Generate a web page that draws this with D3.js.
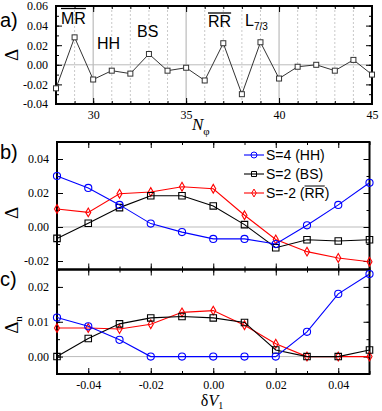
<!DOCTYPE html>
<html>
<head>
<meta charset="utf-8">
<script src="https://cdn.jsdelivr.net/npm/d3@7"></script>
<style>
body { margin: 0; background: #fff; }
svg { display: block; }
</style>
</head>
<body>
<div id="chart"></div>
<script>
// panel a data
var nphi = [28, 29, 30, 31, 32, 33, 34, 35, 36, 37, 38, 39, 40, 41, 42, 43, 44, 45];
var gapA = [-0.024, 0.028, -0.015, -0.006, -0.009, 0.011, -0.006, -0.003, -0.016, 0.022, -0.030, 0.023, -0.014, -0.002, 0.000, -0.006, 0.005, -0.010];

// panels b, c data
var dV = [-0.05, -0.04, -0.03, -0.02, -0.01, 0.00, 0.01, 0.02, 0.03, 0.04, 0.05];
var gapHH = [0.030, 0.023, 0.013, 0.002, -0.003, -0.007, -0.007, -0.010, 0.001, 0.013, 0.026];
var gapBS = [-0.0067, 0.0022, 0.0114, 0.0184, 0.0184, 0.0124, 0.0014, -0.0122, -0.0075, -0.0082, -0.0075];
var gapRR = [0.0106, 0.0086, 0.0196, 0.0206, 0.0237, 0.0225, 0.0069, -0.0073, -0.0145, -0.0182, -0.0204];
var gapnHH = [0.0112, 0.0087, 0.0048, 0, 0, 0, 0, 0, 0.0071, 0.018, 0.0237];
var gapnBS = [0, 0.0052, 0.0094, 0.0111, 0.0115, 0.0111, 0.0098, 0.0019, 0, 0, 0.0019];
var gapnRR = [0.0082, 0.0082, 0.0079, 0.0093, 0.0127, 0.0132, 0.009, 0.0037, 0, 0, 0];
var seriesNames = ["S=4 (HH)", "S=2 (BS)", "S=-2 (RR)"];
var seriesColors = ["#0000ff", "#000000", "#ff0000"];

var W = 382, H = 411;
var svg = d3.select("#chart").append("svg").attr("width", W).attr("height", H);

var fmt = function(d) { return d.toFixed(2); };
var serif = "'Liberation Serif', 'Times New Roman', serif";
var sans = "'Liberation Sans', Arial, sans-serif";

// ---------- panel a ----------
var xa = d3.scaleLinear().domain([28, 45]).range([56, 372]);
var ya = d3.scaleLinear().domain([-0.04, 0.06]).range([104, 6]);

// grid lines
svg.selectAll(".gridA").data(d3.range(29, 45)).enter().append("line")
    .attr("x1", function(d) { return xa(d); }).attr("x2", function(d) { return xa(d); })
    .attr("y1", ya(0.06)).attr("y2", ya(-0.04))
    .attr("stroke", "#bbb").attr("stroke-width", function(d) { return d % 5 == 0 ? 1.2 : 0.8; })
    .attr("stroke-dasharray", function(d) { return d % 5 == 0 ? null : "2,2"; });
svg.append("line").attr("x1", xa(28)).attr("x2", xa(45)).attr("y1", ya(0)).attr("y2", ya(0))
    .attr("stroke", "#bbb").attr("stroke-width", 1);

function frameAxes(x, y, xTicks, xMinor, yTicks, yMinor, showX) {
    var g = svg.append("g");
    var x0 = x.range()[0], x1 = x.range()[1], y0 = y.range()[0], y1 = y.range()[1];
    // bottom
    g.append("g").attr("transform", "translate(0," + y0 + ")")
        .call(d3.axisBottom(x).tickValues(xMinor).tickSize(-3).tickFormat(""));
    g.append("g").attr("transform", "translate(0," + y0 + ")")
        .call(d3.axisBottom(x).tickValues(xTicks).tickSize(-6).tickPadding(6)
            .tickFormat(showX ? function(d) { return showX(d); } : ""));
    // top
    g.append("g").attr("transform", "translate(0," + y1 + ")")
        .call(d3.axisTop(x).tickValues(xMinor).tickSize(-3).tickFormat(""));
    g.append("g").attr("transform", "translate(0," + y1 + ")")
        .call(d3.axisTop(x).tickValues(xTicks).tickSize(-6).tickFormat(""));
    // left
    g.append("g").attr("transform", "translate(" + x0 + ",0)")
        .call(d3.axisLeft(y).tickValues(yMinor).tickSize(-3).tickFormat(""));
    g.append("g").attr("transform", "translate(" + x0 + ",0)")
        .call(d3.axisLeft(y).tickValues(yTicks).tickSize(-6).tickPadding(8).tickFormat(fmt));
    // right
    g.append("g").attr("transform", "translate(" + x1 + ",0)")
        .call(d3.axisRight(y).tickValues(yMinor).tickSize(-3).tickFormat(""));
    g.append("g").attr("transform", "translate(" + x1 + ",0)")
        .call(d3.axisRight(y).tickValues(yTicks).tickSize(-6).tickFormat(""));
    g.selectAll(".domain").remove();
    g.selectAll(".tick line").attr("stroke", "#000").attr("stroke-width", 1);
    g.selectAll("text").attr("font-family", serif).attr("font-size", 12).attr("fill", "#000");
    g.append("rect").attr("x", x0).attr("y", y1).attr("width", x1 - x0).attr("height", y0 - y1)
        .attr("fill", "none").attr("stroke", "#000").attr("stroke-width", 2);
    return g;
}

frameAxes(xa, ya, [30, 35, 40, 45], d3.range(28, 46),
    [-0.04, -0.02, 0, 0.02, 0.04, 0.06], d3.range(-4, 7).map(function(d) { return d / 100; }),
    function(d) { return d; });

svg.append("path").datum(nphi)
    .attr("d", d3.line().x(function(d) { return xa(d); }).y(function(d, i) { return ya(gapA[i]); }))
    .attr("fill", "none").attr("stroke", "#333").attr("stroke-width", 1);
svg.selectAll(".mA").data(nphi).enter().append("rect")
    .attr("x", function(d) { return xa(d) - 2.5; })
    .attr("y", function(d, i) { return ya(gapA[i]) - 2.5; })
    .attr("width", 5).attr("height", 5)
    .attr("fill", "#fff").attr("stroke", "#333").attr("stroke-width", 1);

// annotations
function ann(txt, x, y, overY) {
    var t = svg.append("text").attr("x", x).attr("y", y).attr("font-family", sans)
        .attr("font-size", 16).text(txt);
    if (overY) {
        var w = t.node().getComputedTextLength();
        svg.append("line").attr("x1", x).attr("x2", x + w).attr("y1", overY).attr("y2", overY)
            .attr("stroke", "#000").attr("stroke-width", 1.3);
    }
    return t;
}
ann("MR", 61, 24, 8.5);
ann("HH", 97, 49);
ann("BS", 137, 37);
ann("RR", 208, 27, 13);
var l73 = ann("L", 245, 26);
l73.append("tspan").attr("font-size", 10).attr("dy", 4).text("7/3");

svg.append("text").attr("x", 0).attr("y", 27).attr("font-family", sans).attr("font-size", 20).text("a)");
svg.append("text").attr("transform", "translate(18,55) rotate(-90)").attr("text-anchor", "middle")
    .attr("font-family", serif).attr("font-size", 19).text("Δ");
var nlab = svg.append("text").attr("x", 192).attr("y", 130).attr("font-family", serif)
    .attr("font-style", "italic").attr("font-size", 17).text("N");
nlab.append("tspan").attr("font-style", "normal").attr("font-size", 11).attr("dy", 5).text("φ");

// ---------- panels b, c ----------
var xb = d3.scaleLinear().domain([-0.05, 0.05]).range([57, 369.5]);
var yb = d3.scaleLinear().domain([-0.025, 0.05]).range([269.5, 142]);
var yc = d3.scaleLinear().domain([-0.005, 0.025]).range([374, 269.5]);

svg.append("line").attr("x1", xb(-0.05)).attr("x2", xb(0.05)).attr("y1", yb(0)).attr("y2", yb(0))
    .attr("stroke", "#bbb").attr("stroke-width", 1);
svg.append("line").attr("x1", xb(-0.05)).attr("x2", xb(0.05)).attr("y1", yc(0)).attr("y2", yc(0))
    .attr("stroke", "#bbb").attr("stroke-width", 1);

var dvMajor = [-0.04, -0.02, 0, 0.02, 0.04];
var dvMinor = d3.range(-5, 6).map(function(d) { return d / 100; });

frameAxes(xb, yb, dvMajor, dvMinor, [-0.02, 0, 0.02, 0.04],
    d3.range(-2, 6).map(function(d) { return d / 100; }), null);
frameAxes(xb, yc, dvMajor, dvMinor, [0, 0.01, 0.02],
    d3.range(-1, 6).map(function(d) { return d / 200; }), function(d) { return d.toFixed(2); });

function symFor(shape, big) {
    var s = shape == "circle" ? (big ? 40 : 28) : shape == "square" ? (big ? 42 : 25) : (big ? 22 : 18);
    return d3.symbol().type(shape == "circle" ? d3.symbolCircle : shape == "square" ? d3.symbolSquare : d3.symbolDiamond).size(s);
}

function drawSeries(y, vals, color, shape) {
    svg.append("path").datum(dV)
        .attr("d", d3.line().x(function(d) { return xb(d); }).y(function(d, i) { return y(vals[i]); }))
        .attr("fill", "none").attr("stroke", color).attr("stroke-width", 1.1);
    svg.selectAll(null).data(dV).enter().append("path")
        .attr("d", symFor(shape, true))
        .attr("transform", function(d, i) { return "translate(" + xb(d) + "," + y(vals[i]) + ")"; })
        .attr("fill", "none").attr("stroke", color).attr("stroke-width", 1.1);
}
drawSeries(yb, gapRR, seriesColors[2], "diamond");
drawSeries(yb, gapBS, seriesColors[1], "square");
drawSeries(yb, gapHH, seriesColors[0], "circle");
drawSeries(yc, gapnRR, seriesColors[2], "diamond");
drawSeries(yc, gapnBS, seriesColors[1], "square");
drawSeries(yc, gapnHH, seriesColors[0], "circle");

// legend
var shapes = ["circle", "square", "diamond"];
seriesNames.forEach(function(name, i) {
    var ly = 155 + i * 19;
    svg.append("line").attr("x1", 244).attr("x2", 264).attr("y1", ly).attr("y2", ly)
        .attr("stroke", seriesColors[i]).attr("stroke-width", 1.1);
    svg.append("path").attr("d", symFor(shapes[i], false)).attr("transform", "translate(254," + ly + ")")
        .attr("fill", "none").attr("stroke", seriesColors[i]).attr("stroke-width", 1);
    svg.append("text").attr("x", 266).attr("y", ly + 5).attr("font-family", sans)
        .attr("font-size", 14).text(name);
    if (i == 2) {
        // overline on RR
        var tmp = svg.append("text").attr("font-family", sans).attr("font-size", 14).text("S=-2 (");
        var pre = tmp.node().getComputedTextLength();
        tmp.text("RR");
        var rr = tmp.node().getComputedTextLength();
        tmp.remove();
        svg.append("line").attr("x1", 266 + pre).attr("x2", 266 + pre + rr)
            .attr("y1", ly - 7).attr("y2", ly - 7).attr("stroke", "#000").attr("stroke-width", 1);
    }
});

svg.append("text").attr("x", 0).attr("y", 159).attr("font-family", sans).attr("font-size", 20).text("b)");
svg.append("text").attr("x", 0).attr("y", 286).attr("font-family", sans).attr("font-size", 20).text("c)");
svg.append("text").attr("transform", "translate(18,213) rotate(-90)").attr("text-anchor", "middle")
    .attr("font-family", serif).attr("font-size", 19).text("Δ");
var dn = svg.append("text").attr("transform", "translate(18,325) rotate(-90)").attr("text-anchor", "middle")
    .attr("font-family", serif).attr("font-size", 19).text("Δ");
dn.append("tspan").attr("font-size", 11).attr("dy", 4).text("n");

var dvl = svg.append("text").attr("x", 212).attr("y", 406).attr("text-anchor", "middle")
    .attr("font-family", serif).attr("font-size", 16).text("δ");
dvl.append("tspan").attr("font-style", "italic").text("V");
dvl.append("tspan").attr("font-size", 10).attr("dy", 3).text("1");
</script>
</body>
</html>
